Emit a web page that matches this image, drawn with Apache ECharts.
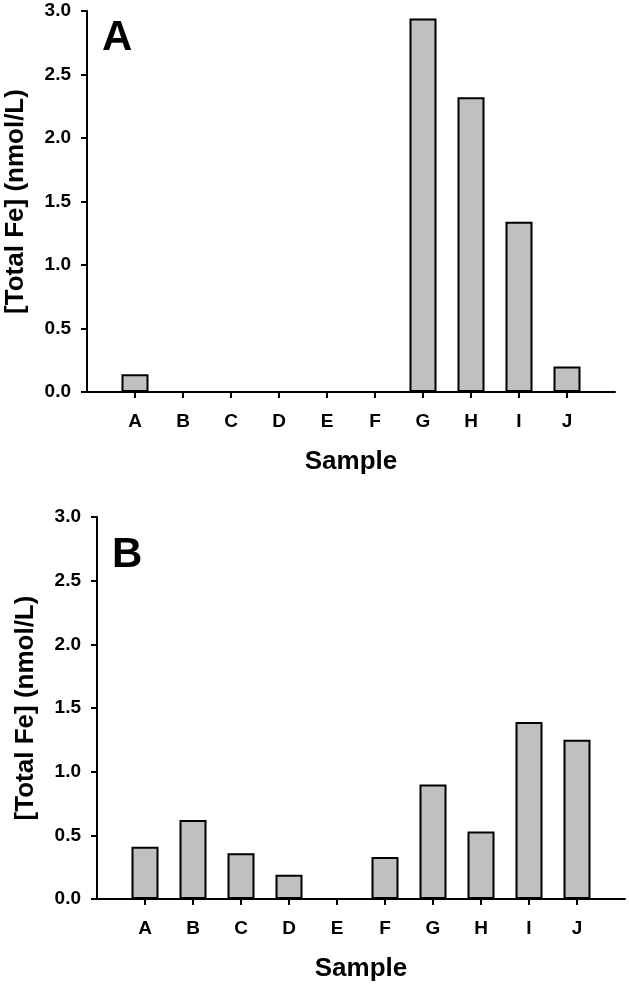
<!DOCTYPE html>
<html>
<head>
<meta charset="utf-8">
<script src="https://cdn.jsdelivr.net/npm/echarts@6/dist/echarts.min.js"></script>
<style>
  html, body { margin: 0; padding: 0; background: #fff; }
  #chart { width: 629px; height: 986px; }
</style>
</head>
<body>
<div id="chart"></div>
<script>
// samples on the x axis
var categories = ['A', 'B', 'C', 'D', 'E', 'F', 'G', 'H', 'I', 'J'];
// [Total Fe] nmol/L, panel A and panel B
var feA = [0.14, 0, 0, 0, 0, 0, 2.94, 2.32, 1.34, 0.20];
var feB = [0.41, 0.62, 0.36, 0.19, 0, 0.33, 0.90, 0.53, 1.39, 1.25];
var yMin = 0, yMax = 3, yStep = 0.5;

var FONT = '"Liberation Sans", Arial, Helvetica, sans-serif';

// one empty slot at each end so the axis runs past the first/last bar
var cats = [''].concat(categories, ['']);
function pad(arr) { return [null].concat(arr, [null]); }

function xAxisFor(idx) {
  return {
    type: 'category', gridIndex: idx, data: cats, boundaryGap: false,
    name: 'Sample', nameLocation: 'middle', nameGap: 57,
    nameTextStyle: { fontFamily: FONT, fontWeight: 'bold', fontSize: 26, color: '#000' },
    axisLine: { lineStyle: { color: '#000', width: 2 } },
    axisTick: { length: 6, lineStyle: { color: '#000', width: 2 },
      interval: function (i) { return i > 0 && i < cats.length - 1; } },
    axisLabel: { margin: 20, fontFamily: FONT, fontWeight: 'bold', fontSize: 19, color: '#000', interval: 0 },
    splitLine: { show: false }
  };
}
function yAxisFor(idx) {
  return {
    type: 'value', gridIndex: idx, min: yMin, max: yMax, interval: yStep,
    name: '[Total Fe] (nmol/L)', nameLocation: 'middle', nameGap: 58,
    nameTextStyle: { fontFamily: FONT, fontWeight: 'bold', fontSize: 26, color: '#000' },
    axisLine: { show: true, lineStyle: { color: '#000', width: 2 } },
    axisTick: { show: true, length: 6, lineStyle: { color: '#000', width: 2 } },
    axisLabel: { margin: 16, fontFamily: FONT, fontWeight: 'bold', fontSize: 19, color: '#000',
      formatter: function (v) { return v.toFixed(1); } },
    splitLine: { show: false }
  };
}
function barsFor(idx, data) {
  return {
    type: 'bar', xAxisIndex: idx, yAxisIndex: idx, data: pad(data),
    barWidth: 27,
    itemStyle: { color: '#c0c0c0', borderColor: '#000', borderWidth: 2 },
    silent: true
  };
}

var chart = echarts.init(document.getElementById('chart'));
chart.setOption({
  animation: false,
  backgroundColor: '#fff',
  title: [
    { text: 'A', left: 97, top: 12, textStyle: { fontFamily: FONT, fontWeight: 'bold', fontSize: 42, color: '#000' } },
    { text: 'B', left: 107, top: 529, textStyle: { fontFamily: FONT, fontWeight: 'bold', fontSize: 42, color: '#000' } }
  ],
  grid: [
    { left: 87, top: 11, width: 528, height: 381, containLabel: false, outerBoundsMode: 'none' },
    { left: 97, top: 517, width: 528, height: 382, containLabel: false, outerBoundsMode: 'none' }
  ],
  xAxis: [xAxisFor(0), xAxisFor(1)],
  yAxis: [yAxisFor(0), yAxisFor(1)],
  series: [barsFor(0, feA), barsFor(1, feB)]
});
</script>
</body>
</html>
